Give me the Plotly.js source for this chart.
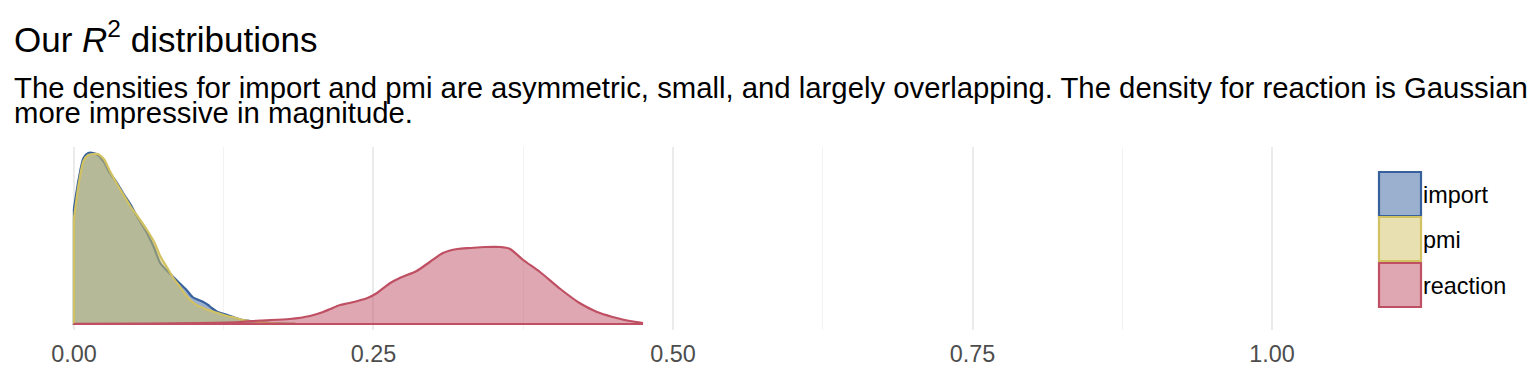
<!DOCTYPE html>
<html>
<head>
<meta charset="utf-8">
<script src="https://cdn.plot.ly/plotly-3.0.1.min.js"></script>
<style>
html,body{margin:0;padding:0;background:#fff;}
#chart{width:1536px;height:384px;}
</style>
</head>
<body>
<div id="chart"></div>
<script>
// ---- data ----
const seriesNames = ["import", "pmi", "reaction"];

const importX = [0.000,0.004,0.008,0.012,0.016,0.020,0.025,0.030,0.036,0.041,0.047,0.053,0.061,0.067,0.072,0.078,0.083,0.088,0.094,0.099,0.104,0.108,0.112,0.115,0.120,0.128,0.135,0.141,0.148,0.155,0.165,0.175,0.185];
const importY = [11.5,14.5,16.6,17.1,17.1,16.9,16.2,15.1,14.1,13.1,12.0,10.7,9.1,7.6,6.1,5.3,4.7,4.1,3.4,2.7,2.4,2.2,1.9,1.6,1.2,0.9,0.6,0.4,0.3,0.2,0.1,0.05,0.02];

const pmiX = [0.000,0.004,0.008,0.012,0.016,0.020,0.025,0.030,0.036,0.041,0.047,0.053,0.061,0.067,0.072,0.078,0.083,0.088,0.094,0.099,0.104,0.108,0.112,0.115,0.120,0.128,0.135,0.141,0.148,0.155,0.165,0.175,0.185];
const pmiY = [10.5,14.0,16.3,16.9,17.0,17.0,16.5,15.3,14.0,13.0,11.8,10.8,9.4,8.2,6.8,5.6,4.6,3.8,2.8,2.2,1.8,1.6,1.4,1.3,1.1,0.8,0.6,0.4,0.3,0.2,0.1,0.05,0.02];

const reactionX = [0.000,0.063,0.105,0.139,0.155,0.180,0.197,0.208,0.214,0.222,0.230,0.245,0.253,0.264,0.272,0.286,0.297,0.308,0.320,0.331,0.343,0.356,0.364,0.375,0.389,0.406,0.422,0.433,0.439,0.453,0.464,0.475];
const reactionY = [0.02,0.05,0.1,0.2,0.35,0.5,0.8,1.2,1.5,1.9,2.1,2.6,3.1,4.1,4.6,5.3,6.2,7.1,7.5,7.6,7.7,7.7,7.5,6.4,5.2,3.5,2.1,1.4,1.1,0.6,0.3,0.1];

const lineColors = ["#37619D", "#D1C161", "#BF4F63"];
const fillColors = ["rgba(55,97,157,0.5)", "rgba(209,193,97,0.5)", "rgba(191,79,99,0.5)"];

const tickVals = [0, 0.25, 0.5, 0.75, 1.0];
const tickText = ["0.00", "0.25", "0.50", "0.75", "1.00"];

const titleText = "Our <i>R</i><sup>2</sup> distributions";
const subtitleLines = [
  "The densities for import and pmi are asymmetric, small, and largely overlapping. The density for reaction is Gaussian",
  "more impressive in magnitude."
];

const FONT = "Liberation Sans, Arial, Helvetica, sans-serif";

// ---- traces: filled density curve + its baseline/left edge outline (like geom_density) ----
const allX = [importX, pmiX, reactionX];
const allY = [importY, pmiY, reactionY];
const traces = [];
seriesNames.forEach((name, i) => {
  const xs = allX[i], ys = allY[i];
  traces.push({
    type: "scatter", mode: "lines", name: name,
    x: xs, y: ys, fill: "tozeroy",
    fillcolor: fillColors[i],
    line: {color: lineColors[i], width: 2.2, shape: "spline", smoothing: 0.7},
    hoverinfo: "skip", showlegend: false
  });
  traces.push({
    type: "scatter", mode: "lines", name: name + " edge",
    x: [xs[xs.length - 1], xs[0], xs[0]],
    y: [0, 0, ys[0]],
    line: {color: lineColors[i], width: 2.2},
    hoverinfo: "skip", showlegend: false
  });
});

// ---- manual legend (square keys like ggplot) ----
// paper y: 0 -> 330px, 1 -> 147px ; paper x: 0 -> 14px, 1 -> 1332px
const pyTop = [172, 217, 263], keyH = 44;
const toPY = p => (330 - p) / 183;
const toPX = p => (p - 14) / 1318;
const shapes = seriesNames.map((n, i) => ({
  type: "rect", xref: "paper", yref: "paper",
  x0: toPX(1379), x1: toPX(1421), y0: toPY(pyTop[i] + keyH), y1: toPY(pyTop[i]),
  fillcolor: fillColors[i], line: {color: lineColors[i], width: 2.2}
}));

const annotations = seriesNames.map((n, i) => ({
  xref: "paper", yref: "paper", x: toPX(1421), y: toPY(pyTop[i] + keyH / 2 + 1),
  xanchor: "left", yanchor: "middle", text: n, showarrow: false,
  font: {family: FONT, size: 23.4, color: "#000"}
}));

annotations.push({
  xref: "paper", yref: "paper", x: 0, y: toPY(37), xanchor: "left", yanchor: "middle",
  text: titleText, showarrow: false, xshift: -2,
  font: {family: FONT, size: 35, color: "#000"}
});
annotations.push({
  xref: "paper", yref: "paper", x: 0, y: toPY(87), xanchor: "left", yanchor: "middle",
  text: subtitleLines[0], showarrow: false, xshift: -2,
  font: {family: FONT, size: 29.3, color: "#000"}
});
annotations.push({
  xref: "paper", yref: "paper", x: 0, y: toPY(112), xanchor: "left", yanchor: "middle",
  text: subtitleLines[1], showarrow: false, xshift: -2,
  font: {family: FONT, size: 29.3, color: "#000"}
});

const layout = {
  width: 1536, height: 384,
  margin: {l: 14, r: 204, t: 147, b: 54, pad: 0},
  paper_bgcolor: "#fff", plot_bgcolor: "#fff",
  showlegend: false,
  xaxis: {
    range: [-0.05, 1.05], tickvals: tickVals, ticktext: tickText,
    showgrid: true, gridcolor: "#EBEBEB", gridwidth: 2,
    minor: {dtick: 0.125, tick0: 0, showgrid: true, gridcolor: "#F2F2F2", gridwidth: 1.2},
    zeroline: false, showline: false, ticks: "",
    ticklabelstandoff: 8,
    tickfont: {family: FONT, size: 23.4, color: "#4D4D4D"},
    fixedrange: true
  },
  yaxis: {
    range: [-0.6, 17.7], showgrid: false, zeroline: false, showticklabels: false,
    showline: false, ticks: "", fixedrange: true
  },
  shapes: shapes,
  annotations: annotations
};

Plotly.newPlot("chart", traces, layout, {displayModeBar: false, staticPlot: true});
</script>
</body>
</html>
